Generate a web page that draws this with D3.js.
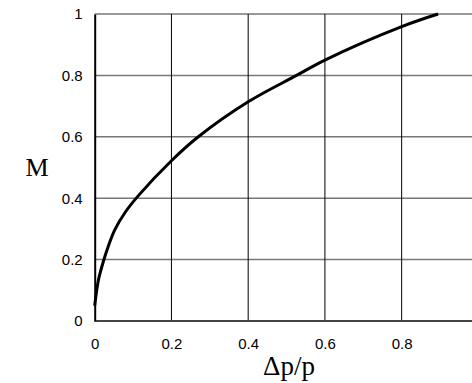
<!DOCTYPE html>
<html><head><meta charset="utf-8">
<script src="https://cdn.jsdelivr.net/npm/d3@7"></script>
<style>body{margin:0;background:#fff}svg{display:block}</style>
</head><body>
<svg id="c" width="472" height="383"></svg>
<script>
const dp = [0, 0.01, 0.024, 0.035, 0.052, 0.08, 0.115, 0.2, 0.27, 0.4, 0.526, 0.6, 0.8, 0.895];
const M  = [0.05, 0.135, 0.2, 0.242, 0.296, 0.355, 0.41, 0.522, 0.6, 0.714, 0.8, 0.85, 0.959, 1.0];
const xTicks = [0, 0.2, 0.4, 0.6, 0.8];
const yTicks = [0, 0.2, 0.4, 0.6, 0.8, 1];
const xTitle = "Δp/p", yTitle = "M";

const svg = d3.select("#c");
const x = d3.scaleLinear().domain([0, 1]).range([94.7, 478.4]);
const y = d3.scaleLinear().domain([0, 1]).range([321, 14]);
const W = 472;

svg.append("g").selectAll("line").data(yTicks.filter(d => d > 0)).join("line")
  .attr("x1", x(0)).attr("x2", W).attr("y1", d => y(d)).attr("y2", d => y(d))
  .attr("stroke", "#777").attr("stroke-width", 1.5);
svg.append("g").selectAll("line").data(xTicks.filter(d => d > 0)).join("line")
  .attr("y1", y(1)).attr("y2", y(0)).attr("x1", d => x(d)).attr("x2", d => x(d))
  .attr("stroke", "#000").attr("stroke-width", 1);

const xAxis = svg.append("g").attr("transform", `translate(0,${y(0)})`)
  .call(d3.axisBottom(x).tickValues(xTicks).tickFormat(d3.format("")).tickSize(0).tickPadding(17));
xAxis.select(".domain").attr("d", `M${x(0)},0H${W}`).attr("stroke", "#444").attr("stroke-width", 2);
xAxis.selectAll("text").attr("font-family", "Liberation Sans, Arial, sans-serif").attr("font-size", 15).attr("fill", "#000");

const yAxis = svg.append("g").attr("transform", `translate(${x(0)},0)`)
  .call(d3.axisLeft(y).tickValues(yTicks).tickFormat(d3.format("")).tickSize(0).tickPadding(12));
yAxis.select(".domain").attr("stroke", "#000").attr("stroke-width", 2);
yAxis.selectAll("text").attr("font-family", "Liberation Sans, Arial, sans-serif").attr("font-size", 15).attr("fill", "#000");

const pts = dp.map((d, i) => [d, M[i]]);
svg.append("path").datum(pts)
  .attr("d", d3.line().x(d => x(d[0])).y(d => y(d[1])).curve(d3.curveCatmullRom.alpha(0.5)))
  .attr("fill", "none").attr("stroke", "#000").attr("stroke-width", 3);

svg.append("text").attr("x", 37).attr("y", 176).attr("text-anchor", "middle")
  .attr("font-family", "Liberation Serif, Times New Roman, serif").attr("font-size", 26).text(yTitle);
svg.append("text").attr("x", 289).attr("y", 375).attr("text-anchor", "middle")
  .attr("font-family", "Liberation Serif, Times New Roman, serif").attr("font-size", 27).text(xTitle);
</script>
</body></html>
